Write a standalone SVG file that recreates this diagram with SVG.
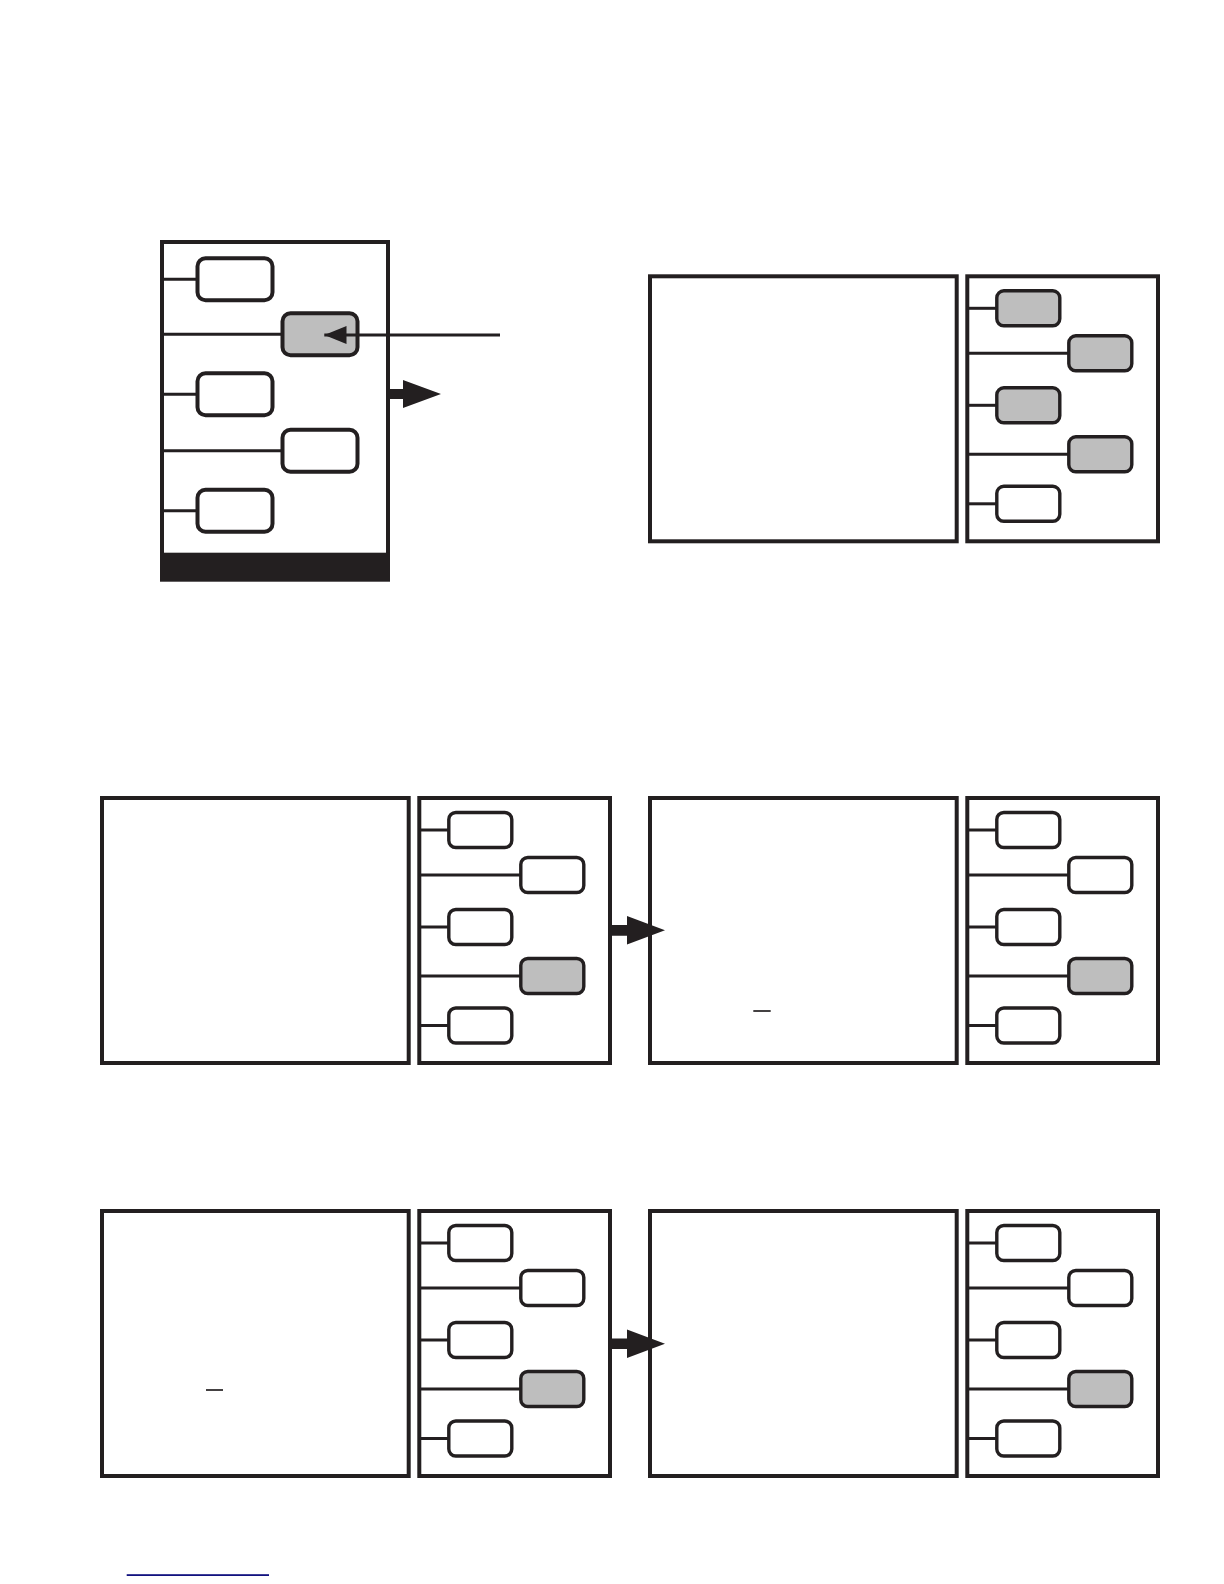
<svg xmlns="http://www.w3.org/2000/svg" width="1224" height="1584" viewBox="0 0 1224 1584">
<style>
.panel{fill:#fff;stroke:#231f20;stroke-width:4}
.bx{fill:#fff;stroke:#231f20;stroke-width:3.4}
.bx.on{fill:#bebebe}
.ln{stroke:#231f20;stroke-width:3;fill:none}
.fat{fill:#231f20}
.mark{stroke:#231f20;stroke-width:1.7}
</style>
<defs>
<marker id="head" markerWidth="8" markerHeight="6" refX="7.4" refY="3" orient="auto" markerUnits="strokeWidth">
<path d="M0,0 L7.4,3 L0,6 Z" fill="#231f20"/>
</marker>
</defs>
<rect width="1224" height="1584" fill="#fff"/>

<!-- Row 1: tall menu -->
<g id="menu-tall">
<rect class="panel" x="162" y="242" width="226" height="325"/>
<rect x="160" y="552.7" width="230" height="29" fill="#231f20"/>
<line class="ln" x1="162" y1="279.3" x2="197.5" y2="279.3"/>
<line class="ln" x1="162" y1="334.3" x2="282.5" y2="334.3"/>
<line class="ln" x1="162" y1="394.3" x2="197.5" y2="394.3"/>
<line class="ln" x1="162" y1="450.7" x2="282.5" y2="450.7"/>
<line class="ln" x1="162" y1="510.7" x2="197.5" y2="510.7"/>
<rect class="bx" x="197.5" y="258.3" width="75" height="42" rx="8" style="stroke-width:4"/>
<rect class="bx on" x="282.5" y="313.3" width="75" height="42" rx="8" style="stroke-width:4"/>
<rect class="bx" x="197.5" y="373.3" width="75" height="42" rx="8" style="stroke-width:4"/>
<rect class="bx" x="282.5" y="429.7" width="75" height="42" rx="8" style="stroke-width:4"/>
<rect class="bx" x="197.5" y="489.7" width="75" height="42" rx="8" style="stroke-width:4"/>
</g>

<!-- Row 1 right -->
<g id="screen-1">
<rect class="panel" x="650" y="276.3" width="306.7" height="265"/>
</g>
<g id="menu-1">
<rect class="panel" x="967.3" y="276.3" width="190.7" height="265"/>
<line class="ln" x1="967.3" y1="308.3" x2="996.8" y2="308.3"/>
<line class="ln" x1="967.3" y1="353.3" x2="1068.8" y2="353.3"/>
<line class="ln" x1="967.3" y1="405.3" x2="996.8" y2="405.3"/>
<line class="ln" x1="967.3" y1="454.3" x2="1068.8" y2="454.3"/>
<line class="ln" x1="967.3" y1="503.8" x2="996.8" y2="503.8"/>
<rect class="bx on" x="996.8" y="290.8" width="63" height="35" rx="7"/>
<rect class="bx on" x="1068.8" y="335.8" width="63" height="35" rx="7"/>
<rect class="bx on" x="996.8" y="387.8" width="63" height="35" rx="7"/>
<rect class="bx on" x="1068.8" y="436.8" width="63" height="35" rx="7"/>
<rect class="bx" x="996.8" y="486.3" width="63" height="35" rx="7"/>
</g>

<!-- Row 2 -->
<g id="screen-2a">
<rect class="panel" x="102" y="798" width="306.7" height="265"/>
</g>
<g id="menu-2a">
<rect class="panel" x="419.3" y="798" width="190.7" height="265"/>
<line class="ln" x1="419.3" y1="830" x2="448.8" y2="830"/>
<line class="ln" x1="419.3" y1="875" x2="520.8" y2="875"/>
<line class="ln" x1="419.3" y1="927" x2="448.8" y2="927"/>
<line class="ln" x1="419.3" y1="976" x2="520.8" y2="976"/>
<line class="ln" x1="419.3" y1="1025.5" x2="448.8" y2="1025.5"/>
<rect class="bx" x="448.8" y="812.5" width="63" height="35" rx="7"/>
<rect class="bx" x="520.8" y="857.5" width="63" height="35" rx="7"/>
<rect class="bx" x="448.8" y="909.5" width="63" height="35" rx="7"/>
<rect class="bx on" x="520.8" y="958.5" width="63" height="35" rx="7"/>
<rect class="bx" x="448.8" y="1008" width="63" height="35" rx="7"/>
</g>
<g id="screen-2b">
<rect class="panel" x="650" y="798" width="306.7" height="265"/>
<line class="mark" x1="753.3" y1="1011" x2="770.7" y2="1011"/>
</g>
<g id="menu-2b">
<rect class="panel" x="967.3" y="798" width="190.7" height="265"/>
<line class="ln" x1="967.3" y1="830" x2="996.8" y2="830"/>
<line class="ln" x1="967.3" y1="875" x2="1068.8" y2="875"/>
<line class="ln" x1="967.3" y1="927" x2="996.8" y2="927"/>
<line class="ln" x1="967.3" y1="976" x2="1068.8" y2="976"/>
<line class="ln" x1="967.3" y1="1025.5" x2="996.8" y2="1025.5"/>
<rect class="bx" x="996.8" y="812.5" width="63" height="35" rx="7"/>
<rect class="bx" x="1068.8" y="857.5" width="63" height="35" rx="7"/>
<rect class="bx" x="996.8" y="909.5" width="63" height="35" rx="7"/>
<rect class="bx on" x="1068.8" y="958.5" width="63" height="35" rx="7"/>
<rect class="bx" x="996.8" y="1008" width="63" height="35" rx="7"/>
</g>

<!-- Row 3 -->
<g id="screen-3a">
<rect class="panel" x="102" y="1211" width="306.7" height="265"/>
<line class="mark" x1="206" y1="1390" x2="223" y2="1390"/>
</g>
<g id="menu-3a">
<rect class="panel" x="419.3" y="1211" width="190.7" height="265"/>
<line class="ln" x1="419.3" y1="1243" x2="448.8" y2="1243"/>
<line class="ln" x1="419.3" y1="1288" x2="520.8" y2="1288"/>
<line class="ln" x1="419.3" y1="1340" x2="448.8" y2="1340"/>
<line class="ln" x1="419.3" y1="1389" x2="520.8" y2="1389"/>
<line class="ln" x1="419.3" y1="1438.5" x2="448.8" y2="1438.5"/>
<rect class="bx" x="448.8" y="1225.5" width="63" height="35" rx="7"/>
<rect class="bx" x="520.8" y="1270.5" width="63" height="35" rx="7"/>
<rect class="bx" x="448.8" y="1322.5" width="63" height="35" rx="7"/>
<rect class="bx on" x="520.8" y="1371.5" width="63" height="35" rx="7"/>
<rect class="bx" x="448.8" y="1421" width="63" height="35" rx="7"/>
</g>
<g id="screen-3b">
<rect class="panel" x="650" y="1211" width="306.7" height="265"/>
</g>
<g id="menu-3b">
<rect class="panel" x="967.3" y="1211" width="190.7" height="265"/>
<line class="ln" x1="967.3" y1="1243" x2="996.8" y2="1243"/>
<line class="ln" x1="967.3" y1="1288" x2="1068.8" y2="1288"/>
<line class="ln" x1="967.3" y1="1340" x2="996.8" y2="1340"/>
<line class="ln" x1="967.3" y1="1389" x2="1068.8" y2="1389"/>
<line class="ln" x1="967.3" y1="1438.5" x2="996.8" y2="1438.5"/>
<rect class="bx" x="996.8" y="1225.5" width="63" height="35" rx="7"/>
<rect class="bx" x="1068.8" y="1270.5" width="63" height="35" rx="7"/>
<rect class="bx" x="996.8" y="1322.5" width="63" height="35" rx="7"/>
<rect class="bx on" x="1068.8" y="1371.5" width="63" height="35" rx="7"/>
<rect class="bx" x="996.8" y="1421" width="63" height="35" rx="7"/>
</g>

<!-- Connectors -->
<g id="connectors">
<line class="ln" x1="500" y1="335" x2="324.3" y2="335" marker-end="url(#head)"/>
<path class="fat" d="M388,389 L403,389 L403,380 L441,394 L403,408 L403,399 L388,399 Z"/>
<path class="fat" d="M610,925 L627,925 L627,916 L665,930.3 L627,944.5 L627,935.7 L610,935.7 Z"/>
<path class="fat" d="M610,1338.5 L627,1338.5 L627,1329.5 L665,1343.7 L627,1358 L627,1349 L610,1349 Z"/>
</g>

<rect x="126.7" y="1574.2" width="142.3" height="1.8" fill="#12127f"/>
</svg>
